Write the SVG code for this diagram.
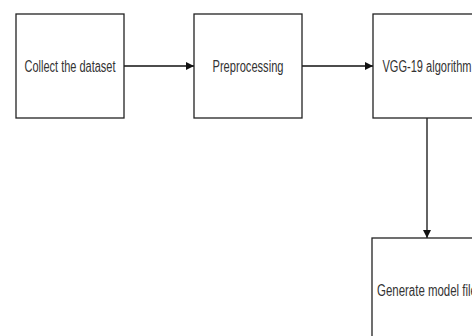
<svg xmlns="http://www.w3.org/2000/svg" width="472" height="336" viewBox="0 0 472 336">
<defs>
<style>
.box{fill:#fff;stroke:#222;stroke-width:1.3}
.lbl{font-family:"Liberation Sans",Arial,sans-serif;font-size:16px;fill:#333;text-anchor:middle}
.con{stroke:#111;stroke-width:1.3;fill:none}
</style>
<marker id="arr" viewBox="0 0 10 10" refX="10" refY="5" markerWidth="8" markerHeight="8" markerUnits="userSpaceOnUse" orient="auto">
<path d="M0,0 L10,5 L0,10 z" fill="#111"/>
</marker>
</defs>
<rect width="472" height="336" fill="#fff"/>
<g id="connectors">
<line class="con" x1="124" y1="66" x2="194" y2="66" marker-end="url(#arr)"/>
<line class="con" x1="302" y1="66" x2="373" y2="66" marker-end="url(#arr)"/>
<line class="con" x1="427" y1="118" x2="427" y2="238" marker-end="url(#arr)"/>
</g>
<g id="n1">
<rect class="box" x="16" y="14" width="108" height="104"/>
<text class="lbl" x="70" y="72" textLength="91" lengthAdjust="spacingAndGlyphs">Collect the dataset</text>
</g>
<g id="n2">
<rect class="box" x="194" y="14" width="108" height="104"/>
<text class="lbl" x="248" y="72" textLength="71" lengthAdjust="spacingAndGlyphs">Preprocessing</text>
</g>
<g id="n3">
<rect class="box" x="373" y="14" width="108" height="104"/>
<text class="lbl" x="427" y="72" textLength="89" lengthAdjust="spacingAndGlyphs">VGG-19 algorithm</text>
</g>
<g id="n4">
<rect class="box" x="372" y="238" width="108" height="104"/>
<text class="lbl" x="427" y="296" textLength="100" lengthAdjust="spacingAndGlyphs">Generate model file</text>
</g>
</svg>
